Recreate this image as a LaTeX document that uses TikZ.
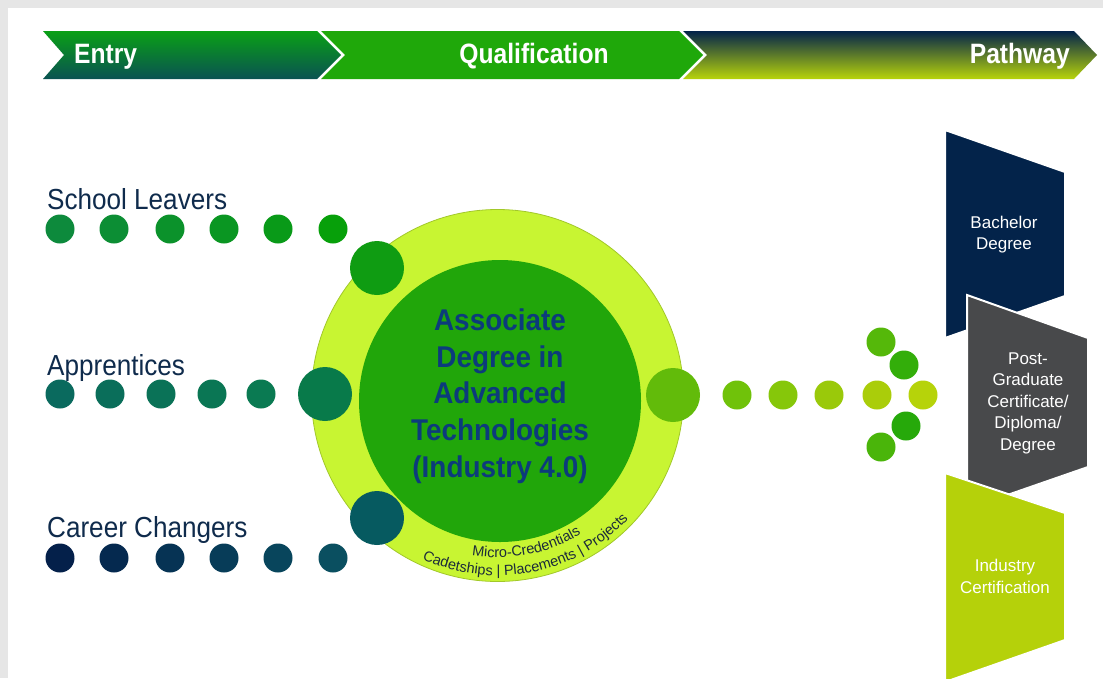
\documentclass[tikz,border=0pt]{standalone}
\usepackage{fontspec}
\setmainfont{Liberation Sans}
\newfontfamily\bannerfont[FakeStretch=0.88]{Liberation Sans Bold}
\newfontfamily\labelfont[FakeStretch=0.9]{Liberation Sans}
\newfontfamily\titlefont[FakeStretch=0.93]{Liberation Sans Bold}
\newfontfamily\arcfont{Liberation Sans}
\usetikzlibrary{decorations.text}

% palette
\definecolor{frameGray}{HTML}{E6E6E6}
\definecolor{entryTop}{HTML}{0AA016}
\definecolor{entryBot}{HTML}{0A5252}
\definecolor{qualGreen}{HTML}{1FA80A}
\definecolor{pathTop}{HTML}{02234A}
\definecolor{pathBot}{HTML}{B8D40A}
\definecolor{labelNavy}{HTML}{0F2B4C}
\definecolor{titleBlue}{HTML}{0C3B7C}
\definecolor{ringLime}{HTML}{C8F532}
\definecolor{ringEdge}{HTML}{A2C82A}
\definecolor{coreGreen}{HTML}{21A60A}
\definecolor{arcText}{HTML}{1C2B3A}
\definecolor{panelNavy}{HTML}{03234A}
\definecolor{panelGray}{HTML}{48494B}
\definecolor{panelLime}{HTML}{B5D10A}
% school leavers row
\definecolor{sa}{HTML}{0D8A3C}
\definecolor{sb}{HTML}{0C8E34}
\definecolor{sc}{HTML}{0B922B}
\definecolor{sd}{HTML}{0A9622}
\definecolor{se}{HTML}{099A18}
\definecolor{sf}{HTML}{07A00A}
% apprentices row
\definecolor{aa}{HTML}{0A6A5E}
\definecolor{ab}{HTML}{0A6E5A}
\definecolor{ac}{HTML}{0A7257}
\definecolor{ad}{HTML}{0A7654}
\definecolor{ae}{HTML}{0A7A52}
% career changers row
\definecolor{ca}{HTML}{04204A}
\definecolor{cb}{HTML}{05294F}
\definecolor{cc}{HTML}{063354}
\definecolor{cd}{HTML}{073C58}
\definecolor{ce}{HTML}{08455C}
\definecolor{cf}{HTML}{0A4F60}
% hub dots on the ring
\definecolor{hubTop}{HTML}{0F9C12}
\definecolor{hubMid}{HTML}{087A4A}
\definecolor{hubBot}{HTML}{065A60}
\definecolor{hubOut}{HTML}{62BB0A}
% outgoing dots
\definecolor{oa}{HTML}{70C20A}
\definecolor{ob}{HTML}{86C70A}
\definecolor{oc}{HTML}{9AC90A}
\definecolor{od}{HTML}{AACD0A}
\definecolor{oe}{HTML}{B6D30A}
\definecolor{pa}{HTML}{55B80A}
\definecolor{pb}{HTML}{33AE0A}
\definecolor{pc}{HTML}{26A90A}
\definecolor{pd}{HTML}{4AB50A}

\begin{document}
\begin{tikzpicture}[x=1pt,y=1pt,
  dot/.style={circle, inner sep=0pt, minimum size=29pt, draw=none},
  bigdot/.style={circle, inner sep=0pt, minimum size=54pt, draw=none},
  bannertext/.style={text=white, inner sep=0pt, font=\bannerfont\fontsize{28}{28}\selectfont},
  rowlabel/.style={text=labelNavy, inner sep=0pt, anchor=base west, font=\labelfont\fontsize{29}{29}\selectfont},
  panel/.style={draw=white, line width=2pt, line join=miter},
  paneltext/.style={text=white, inner sep=0pt, align=center, font=\fontsize{17}{21.5}\selectfont},
  arclabel/.style={decorate, decoration={text along path, text align=center,
      text format delimiters={[}{]}, text color=arcText}}
]
\useasboundingbox (0,0) rectangle (1103,-678);
\clip (0,0) rectangle (1103,-678);

% page frame
\fill[frameGray] (0,0) rectangle (1103,-678);
\fill[white] (8,-8) rectangle (1103,-678);

% banner chevrons
\path[top color=entryTop, bottom color=entryBot]
  (43,-31) -- (317,-31) -- (341,-55) -- (317,-79) -- (43,-79) -- (64,-55) -- cycle;
\path[fill=qualGreen]
  (321,-31) -- (679,-31) -- (703,-55) -- (679,-79) -- (321,-79) -- (345,-55) -- cycle;
\path[top color=pathTop, bottom color=pathBot]
  (683,-31) -- (1074,-31) -- (1097,-55) -- (1074,-79) -- (683,-79) -- (707,-55) -- cycle;
\node[bannertext, anchor=base west] (entry) at (74,-63) {Entry};
\node[bannertext, anchor=base] (qual) at (534,-63) {Qualification};
\node[bannertext, anchor=base east] (path) at (1070,-63) {Pathway};

% entry groups
\node[rowlabel] (lblSchool) at (47,-209) {School Leavers};
\node[rowlabel] (lblAppr) at (47,-375) {Apprentices};
\node[rowlabel] (lblCareer) at (47,-537) {Career Changers};

\foreach \x/\c [count=\i] in {60/sa,114/sb,170/sc,224/sd,278/se,333/sf}
  \node[dot, fill=\c] (s\i) at (\x,-229) {};
\foreach \x/\c [count=\i] in {60/aa,110/ab,161/ac,212/ad,261/ae}
  \node[dot, fill=\c] (a\i) at (\x,-394) {};
\foreach \x/\c [count=\i] in {60/ca,114/cb,170/cc,224/cd,278/ce,333/cf}
  \node[dot, fill=\c] (c\i) at (\x,-558) {};

% qualification hub
\node[circle, inner sep=0pt, minimum size=372pt, fill=ringLime, draw=ringEdge, line width=0.8pt]
  (ring) at (497.5,-395.5) {};
\node[circle, inner sep=0pt, minimum size=282pt, fill=coreGreen] (core) at (500,-401) {};

\node[bigdot, fill=hubTop] (hubT) at (377,-268) {};
\node[bigdot, fill=hubMid] (hubM) at (325,-394) {};
\node[bigdot, fill=hubBot] (hubB) at (377,-518) {};
\node[bigdot, fill=hubOut] (hubO) at (673,-395) {};

\node[text=titleBlue, inner sep=0pt, align=center,
      font=\titlefont\fontsize{30}{36.75}\selectfont] (title) at (500,-396)
  {Associate\\Degree in\\Advanced\\Technologies\\(Industry 4.0)};

% ring captions set along the lower arc
\path[arclabel, decoration={text={[\arcfont\fontsize{14.5}{14.5}\selectfont]Micro-Credentials}}]
  (497.5,-395.5) ++(-150:162) arc[start angle=-150, end angle=-8, radius=162];
\path[arclabel, decoration={text={[\arcfont\fontsize{14.5}{14.5}\selectfont]Cadetships | Placements | Projects}}]
  (497.5,-395.5) ++(-150:180) arc[start angle=-150, end angle=-8, radius=180];

% outgoing dots and arrow head
\foreach \x/\c [count=\i] in {737/oa,783/ob,829/oc,877/od,923/oe}
  \node[dot, fill=\c] (o\i) at (\x,-395) {};
\node[dot, fill=pa] (p1) at (881,-342) {};
\node[dot, fill=pb] (p2) at (904,-365) {};
\node[dot, fill=pc] (p3) at (906,-426) {};
\node[dot, fill=pd] (p4) at (881,-447) {};

% pathway panels
\path[panel, fill=panelNavy] (945,-130) -- (1065,-172) -- (1065,-296) -- (945,-338) -- cycle;
\path[panel, fill=panelGray] (967,-295) -- (1088,-338) -- (1088,-467) -- (967,-509) -- cycle;
\path[panel, fill=panelLime] (945,-473) -- (1065,-513) -- (1065,-640) -- (945,-682) -- cycle;

\node[paneltext] (bach) at (1004,-234.6) {Bachelor\\Degree};
\node[paneltext] (post) at (1028,-403) {Post-\\Graduate\\Certificate/\\Diploma/\\Degree};
\node[paneltext] (ind) at (1005,-576.3) {Industry\\Certification};
\end{tikzpicture}
\end{document}
